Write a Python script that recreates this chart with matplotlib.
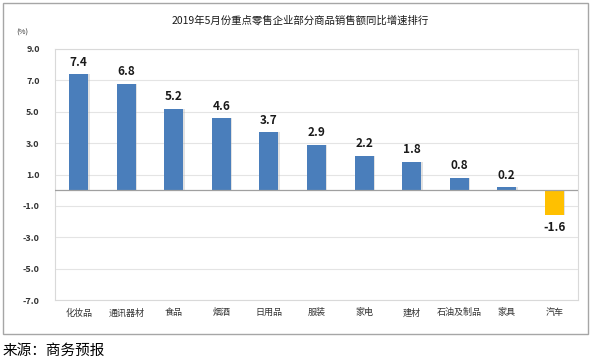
import matplotlib
matplotlib.use("Agg")
import matplotlib.pyplot as plt
from matplotlib.patches import Rectangle

plt.rcParams["font.family"] = ["Noto Sans CJK SC", "DejaVu Sans"]

TITLE = "2019年5月份重点零售企业部分商品销售额同比增速排行"
CATS = ["化妆品", "通讯器材", "食品", "烟酒", "日用品", "服装", "家电",
        "建材", "石油及制品", "家具", "汽车"]
VALUES = [7.4, 6.8, 5.2, 4.6, 3.7, 2.9, 2.2, 1.8, 0.8, 0.2, -1.6]
YTICKS = [9.0, 7.0, 5.0, 3.0, 1.0, -1.0, -3.0, -5.0, -7.0]

BLUE = "#4A7EBB"
GOLD = "#FFC000"

W, H = 595, 363
fig = plt.figure(figsize=(W / 100, H / 100), dpi=100)

# outer frame
fig.patches.append(Rectangle((3 / W, 1 - 334 / H), 585 / W, 331 / H,
                             transform=fig.transFigure, fill=False,
                             ec="#A6A6A6", lw=1.0))

ax = fig.add_axes([55 / W, 1 - 300 / H, 523 / W, 251 / H])
x = list(range(len(CATS)))
colors = [GOLD if v < 0 else BLUE for v in VALUES]
# soft shadow then bars
ax.bar([i + 0.03 for i in x], VALUES, width=0.4, color="#B8B8B8", alpha=0.4,
       zorder=2)
ax.bar(x, VALUES, width=0.4, color=colors, zorder=3)

for i, v in zip(x, VALUES):
    if v >= 0:
        ax.text(i, v + 0.35, f"{v:.1f}", ha="center", va="bottom",
                fontsize=8.5, fontweight="bold", color="#1A1A1A")
    else:
        ax.text(i, v - 0.35, f"{v:.1f}", ha="center", va="top",
                fontsize=8.5, fontweight="bold", color="#1A1A1A")

ax.set_xlim(-0.5, len(CATS) - 0.5)
ax.set_ylim(-7, 9)
ax.set_yticks(YTICKS)
ax.set_yticklabels([f"{t:.1f}" for t in YTICKS], fontsize=6.5,
                   fontweight="bold", color="#333333")
ax.set_xticks(x)
ax.set_xticklabels(CATS, fontsize=6.5, color="#333333")
ax.tick_params(length=0, pad=6)
ax.tick_params(axis="y", pad=11)
ax.grid(axis="y", color="#E4E4E4", lw=0.8, zorder=0)
ax.axhline(0, color="#A0A0A0", lw=0.9, zorder=4)
for s in ax.spines.values():
    s.set_color("#D9D9D9")
    s.set_linewidth(0.8)

fig.text(300 / W, 1 - 20 / H, TITLE, ha="center", va="center", fontsize=7.5,
         color="#1A1A1A")
fig.text(22 / W, 1 - 33 / H, "(%)", ha="center", va="center", fontsize=5.5,
         color="#333333")
fig.text(3 / W, 1 - 351 / H, "来源：商务预报", ha="left", va="center",
         fontsize=10.5, color="#000000")

fig.savefig("out.png", dpi=100)
